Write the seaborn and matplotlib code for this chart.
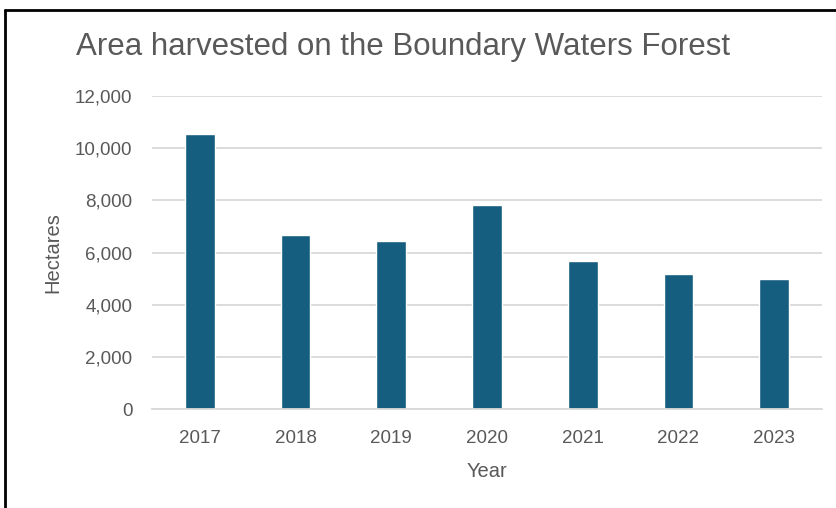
import pandas as pd
import seaborn as sns
import matplotlib.pyplot as plt
from matplotlib.lines import Line2D
from matplotlib.ticker import FuncFormatter

# Data
years = ['2017', '2018', '2019', '2020', '2021', '2022', '2023']
hectares = [10540, 6690, 6450, 7830, 5690, 5170, 4995]

df = pd.DataFrame({'Year': years, 'Hectares': hectares})

sns.set_theme(style='white')
plt.rcParams['font.family'] = ['Liberation Sans', 'DejaVu Sans']

fig = plt.figure(figsize=(8.37, 5.08), dpi=100)
ax = fig.add_axes([152 / 837, 1 - 409 / 508, 670 / 837, 313 / 508])

sns.barplot(data=df, x='Year', y='Hectares', color='#165E80', saturation=1,
            width=0.31, ax=ax)

ax.set_ylim(0, 12000)
ax.set_xlim(-0.5, 6.5)
ax.set_yticks(range(0, 12001, 2000))
ax.yaxis.set_major_formatter(FuncFormatter(lambda v, p: f'{int(v):,}'))
ax.grid(axis='y', color='#d9d9d9', linewidth=1.3)
ax.set_axisbelow(True)
for side in ['top', 'right', 'left']:
    ax.spines[side].set_visible(False)
ax.spines['bottom'].set_color('#d9d9d9')
ax.spines['bottom'].set_linewidth(1.3)

grey = '#595959'
ax.tick_params(axis='both', length=0, labelsize=13.5, labelcolor=grey)
ax.tick_params(axis='y', pad=14)
ax.tick_params(axis='x', pad=15)
ax.set_xlabel('Year', fontsize=14.5, color=grey, labelpad=11)
ax.set_ylabel('Hectares', fontsize=14.5, color=grey, labelpad=9)

fig.text(403 / 837, 1 - 47 / 508, 'Area harvested on the Boundary Waters Forest',
         ha='center', va='center', fontsize=22.5, color=grey)

# outer frame (top and left edges visible in the screenshot)
fig.add_artist(Line2D([5 / 837, 1], [1 - 10 / 508, 1 - 10 / 508],
                      transform=fig.transFigure, color='black', linewidth=2))
fig.add_artist(Line2D([5 / 837, 5 / 837], [0, 1 - 10 / 508],
                      transform=fig.transFigure, color='black', linewidth=2))

plt.savefig('out.png', dpi=100)
